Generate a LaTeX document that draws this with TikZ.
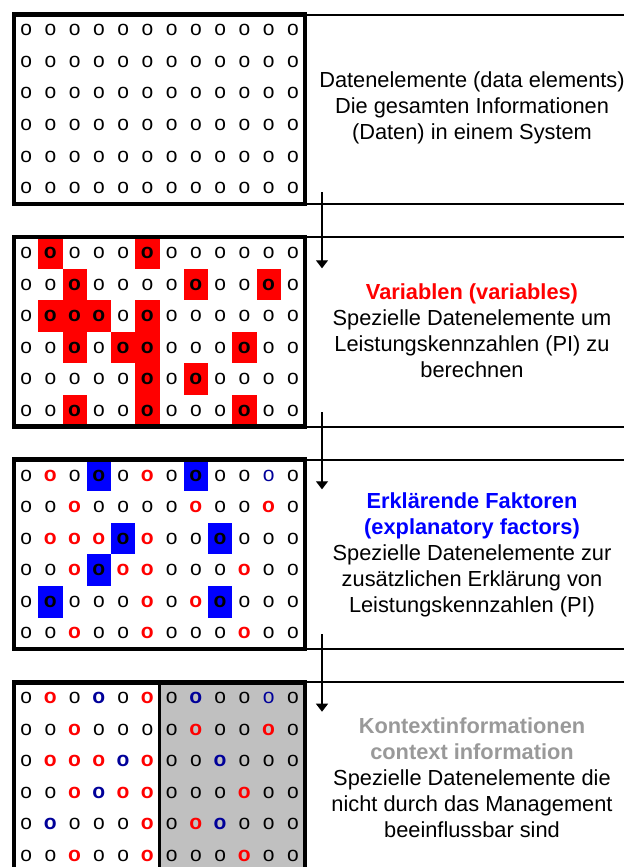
\documentclass[tikz,border=0pt]{standalone}
\usepackage{fontspec}
\setmainfont{Liberation Sans}
\usetikzlibrary{arrows.meta}

\definecolor{navyo}{RGB}{0,0,153}
\definecolor{ctxgray}{RGB}{153,153,153}
\definecolor{panelgray}{RGB}{192,192,192}

\begin{document}
\begin{tikzpicture}[x=0.5pt,y=-0.5pt,
    cell/.style={inner sep=0pt, minimum width=12.125pt, minimum height=15.79pt,
      font=\fontsize{10.5}{12}\selectfont},
    bcell/.style={cell, font=\fontsize{10.5}{12}\selectfont\bfseries},
    cellN/.style={cell},
    cellX/.style={bcell, fill=red},
    cellY/.style={bcell, fill=blue},
    cellR/.style={bcell, text=red},
    cellU/.style={bcell, text=navyo},
    cellV/.style={cell, text=navyo},
    frame/.style={line width=2.25pt},
    rule/.style={line width=1pt},
    flow/.style={line width=0.6pt, -{Triangle[width=6pt,length=4pt]}},
    info/.style={align=center, font=\fontsize{10.9}{13}\selectfont}]

      \clip (0,0) rectangle (624,867);
%      \draw[help lines,step=20] (0,0) grid (624,867);

      % panel 1: data elements
      \foreach \r in {1,...,6}
        \foreach \c in {1,...,12}
          \node[cellN] (d-\r-\c) at ({14+(\c-0.5)*24.25},{14.5+(\r-0.5)*31.58}) {o};
      \draw[frame] (14,14.5) rectangle (305,204);
      \draw[rule] (305,14.5) -- (624,14.5);
      \draw[rule] (305,204) -- (624,204);
      \node[info] (t1) at (472,108) {Datenelemente (data elements)\\Die gesamten Informationen\\(Daten) in einem System};

      % panel 2: variables
      \foreach \line [count=\r] in {{N,X,N,N,N,X,N,N,N,N,N,N},{N,N,X,N,N,N,N,X,N,N,X,N},
          {N,X,X,X,N,X,N,N,N,N,N,N},{N,N,X,N,X,X,N,N,N,X,N,N},
          {N,N,N,N,N,X,N,X,N,N,N,N},{N,N,X,N,N,X,N,N,N,X,N,N}}
        \foreach \k [count=\c] in \line
          \node[cell\k] (v-\r-\c) at ({14+(\c-0.5)*24.25},{237.1+(\r-0.5)*31.58}) {o};
      \draw[frame] (14,237.1) rectangle (305,426.6);
      \draw[rule] (305,237.1) -- (624,237.1);
      \draw[rule] (305,426.6) -- (624,426.6);
      \node[info] (t2) at (472,331) {\textbf{\textcolor{red}{Variablen (variables)}}\\Spezielle Datenelemente um\\Leistungskennzahlen (PI) zu\\berechnen};

      % panel 3: explanatory factors
      \foreach \line [count=\r] in {{N,R,N,Y,N,R,N,Y,N,N,V,N},{N,N,R,N,N,N,N,R,N,N,R,N},
          {N,R,R,R,Y,R,N,N,Y,N,N,N},{N,N,R,Y,R,R,N,N,N,R,N,N},
          {N,Y,N,N,N,R,N,R,Y,N,N,N},{N,N,R,N,N,R,N,N,N,R,N,N}}
        \foreach \k [count=\c] in \line
          \node[cell\k] (e-\r-\c) at ({14+(\c-0.5)*24.25},{459.7+(\r-0.5)*31.58}) {o};
      \draw[frame] (14,459.7) rectangle (305,649.2);
      \draw[rule] (305,459.7) -- (624,459.7);
      \draw[rule] (305,649.2) -- (624,649.2);
      \node[info] (t3) at (472,554.5) {\textbf{\textcolor{blue}{Erklärende Faktoren}}\\\textbf{\textcolor{blue}{(explanatory factors)}}\\Spezielle Datenelemente zur\\zusätzlichen Erklärung von\\Leistungskennzahlen (PI)};

      % panel 4: context information
      \fill[panelgray] (159.5,682.3) rectangle (305,871.8);
      \foreach \line [count=\r] in {{N,R,N,U,N,R,N,U,N,N,V,N},{N,N,R,N,N,N,N,R,N,N,R,N},
          {N,R,R,R,U,R,N,N,U,N,N,N},{N,N,R,U,R,R,N,N,N,R,N,N},
          {N,U,N,N,N,R,N,R,U,N,N,N},{N,N,R,N,N,R,N,N,N,R,N,N}}
        \foreach \k [count=\c] in \line
          \node[cell\k] (k-\r-\c) at ({14+(\c-0.5)*24.25},{682.3+(\r-0.5)*31.58}) {o};
      \draw[line width=1.3pt] (159.5,682.3) -- (159.5,871.8);
      \draw[frame] (14,682.3) rectangle (305,871.8);
      \draw[rule] (305,682.3) -- (624,682.3);
      \node[info] (t4) at (472,777.5) {\textbf{\textcolor{ctxgray}{Kontextinformationen}}\\\textbf{\textcolor{ctxgray}{context information}}\\Spezielle Datenelemente die\\nicht durch das Management\\beeinflussbar sind};

      % arrows between the panels
      \coordinate (a1) at (322,192.3);
      \coordinate (b1) at (322,268.3);
      \coordinate (a2) at (322,412.3);
      \coordinate (b2) at (322,489.3);
      \coordinate (a3) at (322,634);
      \coordinate (b3) at (322,711.7);
      \draw[flow] (a1) -- (b1);
      \draw[flow] (a2) -- (b2);
      \draw[flow] (a3) -- (b3);
    \end{tikzpicture}
\end{document}
